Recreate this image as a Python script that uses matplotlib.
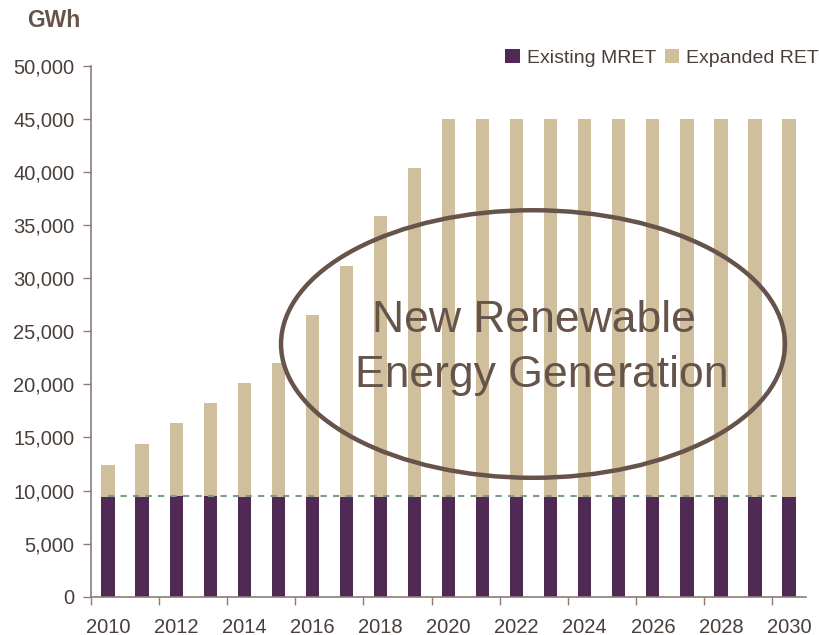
"""Existing MRET vs expanded RET, stacked bars with highlight ellipse."""

import numpy as np
from matplotlib import pyplot as plt
from matplotlib.patches import Ellipse

years = list(range(2010, 2031))
existing_mret = [9350, 9350, 9450, 9450, 9350, 9350, 9350, 9350, 9350, 9350, 9350,
                 9350, 9350, 9350, 9350, 9350, 9350, 9350, 9350, 9350, 9350]
total_target = [12450, 14400, 16350, 18250, 20150, 22000, 26500, 31150, 35850, 40400,
                45000, 45000, 45000, 45000, 45000, 45000, 45000, 45000, 45000, 45000, 45000]
expanded_ret = [t - m for t, m in zip(total_target, existing_mret)]
mret_level = 9450
y_ticks = list(range(0, 50001, 5000))

PURPLE = "#512955"
TAN = "#CFBF9C"
BROWN = "#66534A"
TEXT = "#4A3F3A"
SPINE = "#8C7C75"
DASH = "#7F9C8A"

plt.rcParams["font.family"] = ["Liberation Sans", "DejaVu Sans"]

fig = plt.figure(figsize=(8.2, 6.35), dpi=100)
ax = fig.add_axes([0.111, 0.0603, 0.872, 0.836])

x = np.arange(len(years))
width = 0.39
ax.bar(x, existing_mret, width, color=PURPLE, label="Existing MRET", zorder=2)
ax.bar(x, expanded_ret, width, bottom=existing_mret, color=TAN,
       label="Expanded RET", zorder=2)

# dashed reference at the existing target level
ax.hlines(mret_level, x[0], x[-1] - width / 2, colors=DASH, linestyles=(0, (3, 3)),
          linewidth=1.5, zorder=3)

# highlight ellipse and caption
ell = Ellipse((12.48, 23800), 14.8, 25200, fill=False, edgecolor=BROWN,
              linewidth=3.2, zorder=4)
ax.add_patch(ell)
ax.text(12.5, 26000, "New Renewable", ha="center", va="center", fontsize=32,
        color=BROWN, zorder=5)
ax.text(12.75, 20800, "Energy Generation", ha="center", va="center", fontsize=32,
        color=BROWN, zorder=5)

ax.set_xlim(-0.5, 20.5)
ax.set_ylim(0, 50000)
ax.set_yticks(y_ticks)
ax.set_yticklabels([f"{v:,}" for v in y_ticks])

even = x[::2]
ax.set_xticks(even)
ax.set_xticklabels([str(years[i]) for i in even])
ax.set_xticks(even - 0.5, minor=True)
ax.tick_params(axis="x", which="major", length=0, pad=15, labelsize=14.5,
               labelcolor=TEXT)
ax.tick_params(axis="x", which="minor", length=6, width=1, color=SPINE,
               direction="out")
ax.tick_params(axis="y", length=6, width=1, color=SPINE, labelsize=14.5,
               labelcolor=TEXT, pad=6)

for side in ["top", "right"]:
    ax.spines[side].set_visible(False)
for side in ["left", "bottom"]:
    ax.spines[side].set_color(SPINE)
    ax.spines[side].set_linewidth(1.2)

fig.text(0.033, 0.968, "GWh", fontsize=16.5, fontweight="bold", color=BROWN,
         ha="left", va="center")

ax.legend(loc="center right", bbox_to_anchor=(1.029, 1.015), ncol=2, frameon=False,
          fontsize=14, handlelength=0.75, handleheight=0.75, handletextpad=0.35,
          columnspacing=0.45, labelcolor=TEXT, borderaxespad=0)

fig.savefig("out.png", dpi=100)
